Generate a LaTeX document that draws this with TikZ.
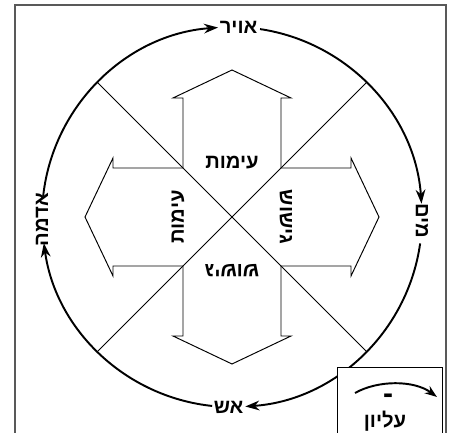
\documentclass[tikz,border=0pt]{standalone}
\usepackage{fontspec}
\newfontfamily\hebfont[Script=Hebrew]{Liberation Sans}
\TeXXeTstate=1
\newcommand{\heb}[1]{{\hebfont\bfseries\beginR #1\endR}}
\usetikzlibrary{arrows.meta,calc}

\begin{document}
\begin{tikzpicture}[
		x=0.02cm, y=0.02cm,
		every node/.style={font=\fontsize{11.5}{13}\selectfont, inner sep=1pt},
		ring/.style={line width=1.1pt, -{Stealth[length=8pt,width=5.5pt]}},
		cut/.style={line width=0.45pt},
		blk/.style={line width=0.55pt, line join=miter},
		frame/.style={line width=0.6pt, black!65}
	]
		\useasboundingbox (0,0) rectangle (451,433);
		\coordinate (c) at (232,216);
		\def\r{190}

		% frame
		\draw[frame] (15,0) -- (15,428) -- (446,428) -- (446,0);

		% elements round the circle
		\node (air) at ($(c)+(88:\r)$) {\heb{אויר}};
		\node[rotate=-90] (water) at ($(c)+(-1.2:\r)$) {\heb{מים}};
		\node (fire) at ($(c)+(-91:\r)$) {\heb{אש}};
		\node[rotate=90] (earth) at ($(c)+(180.8:\r)$) {\heb{אדמה}};

		\draw[ring] ($(c)+(81.5:\r)$) arc[start angle=81.5, end angle=4, radius=3.8cm];
		\draw[ring] ($(c)+(-8:\r)$) arc[start angle=-8, end angle=-86, radius=3.8cm];
		\draw[ring] ($(c)+(-96:\r)$) arc[start angle=-96, end angle=-172.1, radius=3.8cm];
		\draw[ring] ($(c)+(173.7:\r)$) arc[start angle=173.7, end angle=94.2, radius=3.8cm];

		% diagonals
		\draw[cut] ($(c)+(135:\r)$) -- ($(c)+(-45:\r)$);
		\draw[cut] ($(c)+(45:\r)$) -- ($(c)+(-135:\r)$);

		% block arrows
		\foreach \a/\t in {0/עימות, 90/עימות, 180/גישוש, 270/גישוש} {
			\begin{scope}[shift={(c)}, rotate=\a]
				\draw[blk] (-49,49) -- (-49,119) -- (-59,119) -- (0,147) -- (59,119) -- (49,119) -- (49,49);
				\node[rotate=\a] (lbl\a) at (0,54) {\heb{\t}};
			\end{scope}
		}

		% key
		\draw[blk, fill=white] (337,-1) -- (337,66) -- (442,66) -- (442,-1);
		\draw[line width=1.1pt, -{Stealth[length=7pt,width=5pt]}] (355,40) .. controls (378,53) and (414,53) .. (437,36);
		\node[font=\fontsize{17}{17}\selectfont, inner sep=0pt] (minus) at (388,34) {\hebfont\bfseries -};
		\node (upper) at (385,12) {\heb{עליון}};
	\end{tikzpicture}
\end{document}
